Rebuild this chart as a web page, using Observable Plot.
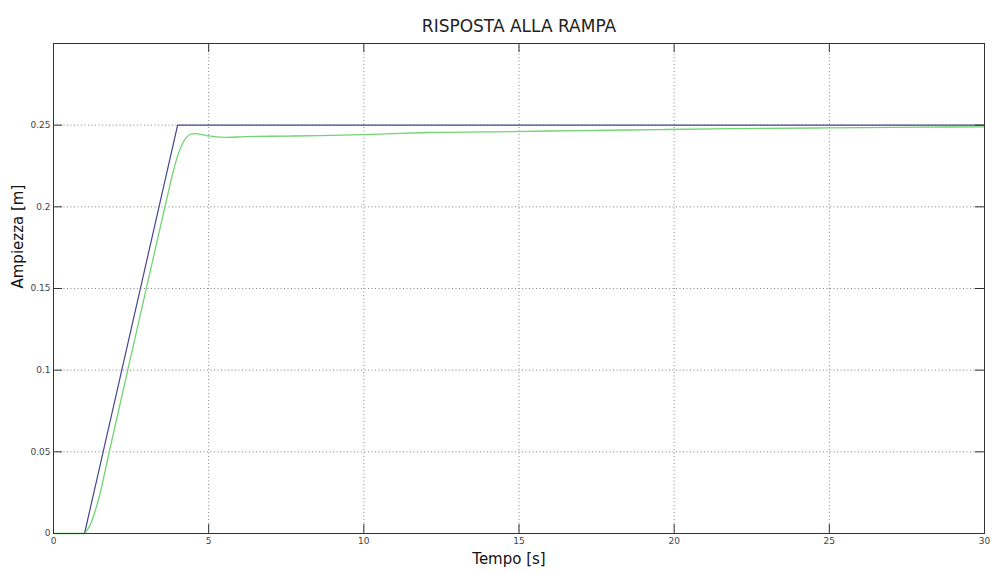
<!DOCTYPE html>
<html>
<head>
<meta charset="utf-8">
<script src="https://cdn.jsdelivr.net/npm/d3@7"></script>
<script src="https://cdn.jsdelivr.net/npm/@observablehq/plot@0.6"></script>
<style>
  html, body { margin: 0; padding: 0; background: #fff; }
  #chart svg { display: block; }
</style>
</head>
<body>
<div id="chart"></div>
<script>
// Reference ramp input: zero until t = 1 s, rising to 0.25 m at t = 4 s, then held.
const rampTime = [0, 1, 4, 30];
const rampValue = [0, 0, 0.25, 0.25];

// System output following the ramp (sampled points along the response curve).
const respTime = [0, 1.0, 1.1, 1.2, 1.3, 1.4, 1.5, 1.6, 1.7, 1.8, 2.0, 2.5, 3.0, 3.5, 3.7, 3.85,
  4.0, 4.15, 4.3, 4.45, 4.6, 4.8, 5.0, 5.5, 6.2, 7.5, 8.6, 10, 12.1, 14.8, 17, 19.5, 21.9, 24.9, 27.9, 30];
const respValue = [0, 0, 0.0025, 0.006, 0.0112, 0.0175, 0.0245, 0.0328, 0.0415, 0.0502, 0.0672, 0.109,
  0.1508, 0.1925, 0.209, 0.221, 0.2312, 0.2385, 0.2428, 0.2447, 0.2448, 0.2442, 0.2434, 0.2425, 0.243,
  0.2433, 0.2436, 0.2442, 0.2455, 0.2461, 0.2467, 0.2473, 0.2479, 0.2483, 0.2488, 0.2489];

const xTicks = [0, 5, 10, 15, 20, 25, 30];
const xTickLabels = ["0", "5", "10", "15", "20", "25", "30"];
const yTicks = [0, 0.05, 0.1, 0.15, 0.2, 0.25];
const yTickLabels = ["0", "0.05", "0.1", "0.15", "0.2", "0.25"];

const titleText = "RISPOSTA ALLA RAMPA";
const xLabel = "Tempo [s]";
const yLabel = "Ampiezza [m]";

const ramp = rampTime.map((t, i) => ({t, v: rampValue[i]}));
const resp = respTime.map((t, i) => ({t, v: respValue[i]}));

const W = 992, H = 573;
const mL = 53, mR = 8, mT = 43, mB = 40;
const frameW = W - mL - mR, frameH = H - mT - mB;
const tickLen = 9;
const innerX = xTicks.filter(d => d > 0 && d < 30);
const innerY = yTicks.filter(d => d > 0);

const chart = Plot.plot({
  width: W,
  height: H,
  marginLeft: mL,
  marginRight: mR,
  marginTop: mT,
  marginBottom: mB,
  style: {fontFamily: "DejaVu Sans, sans-serif", background: "#fff"},
  x: {domain: [0, 30], axis: null},
  y: {domain: [0, 0.3], axis: null},
  marks: [
    // dotted grid
    Plot.gridX(innerX, {stroke: "#777", strokeOpacity: 0.9, strokeDasharray: "1,2.5"}),
    Plot.gridY(innerY, {stroke: "#777", strokeOpacity: 0.9, strokeDasharray: "1,2.5"}),
    // curves
    Plot.line(ramp, {x: "t", y: "v", stroke: "#46468a", strokeWidth: 1.2}),
    Plot.line(resp, {x: "t", y: "v", stroke: "#72d472", strokeWidth: 1.3, curve: "monotone-x"}),
    // box
    Plot.frame({stroke: "#333", strokeWidth: 1}),
    // inward tick marks on all four sides
    Plot.ruleX(xTicks, {x: d => d, insetTop: frameH - tickLen, stroke: "#333"}),
    Plot.ruleX(xTicks, {x: d => d, insetBottom: frameH - tickLen, stroke: "#333"}),
    Plot.ruleY(yTicks, {y: d => d, insetRight: frameW - tickLen, stroke: "#333"}),
    Plot.ruleY(yTicks, {y: d => d, insetLeft: frameW - tickLen, stroke: "#333"}),
    // tick labels
    Plot.text(xTicks, {x: d => d, text: (d, i) => xTickLabels[i], frameAnchor: "bottom",
      lineAnchor: "top", dy: 4, fontSize: 9, fill: "#444"}),
    Plot.text(yTicks, {y: d => d, text: (d, i) => yTickLabels[i], frameAnchor: "left",
      textAnchor: "end", dx: -3, fontSize: 9, fill: "#444"}),
    // title and axis labels
    Plot.text([titleText], {text: d => d, frameAnchor: "top", dy: -24, fontSize: 17, fill: "#222"}),
    Plot.text([xLabel], {text: d => d, frameAnchor: "bottom", dy: 30, dx: -10, fontSize: 15, fill: "#111"}),
    Plot.text([yLabel], {text: d => d, frameAnchor: "left", rotate: -90, dx: -35, fontSize: 15, fill: "#111"})
  ]
});

document.getElementById("chart").appendChild(chart);
</script>
</body>
</html>
